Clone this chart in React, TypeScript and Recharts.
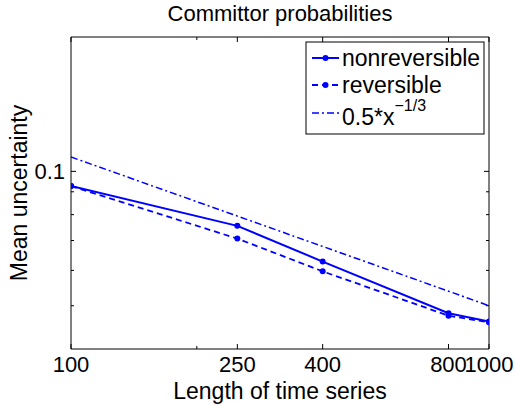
import React from 'react';
import { LineChart, Line, XAxis, YAxis } from 'recharts';

// values (log-log axes)
const lengths = [100, 250, 400, 800, 1000];
const nonreversible = [0.0927, 0.0755, 0.0628, 0.0481, 0.0461];
const reversible = [0.0927, 0.0707, 0.0597, 0.0475, 0.0459];
const powerLaw = [0.1077, 0.0794, 0.0679, 0.0539, 0.05];

const xTicks = [100, 200, 250, 400, 800, 1000];
const xLabels = [100, 250, 400, 800, 1000];
const yTicks = [0.05, 0.06, 0.07, 0.08, 0.09, 0.1];
const yLabels = [0.1];

const legendNames = ['nonreversible', 'reversible', '0.5*x'];

const data = lengths.map((len, i) => ({
  length: len,
  nonreversible: nonreversible[i],
  reversible: reversible[i],
  powerLaw: powerLaw[i],
}));

const W = 515;
const H = 405;
const FONT = '"Liberation Sans", Arial, Helvetica, sans-serif';
const BLUE = '#0000ff';

const MAJOR = 5;
const MINOR = 3;

function XTick(props: any) {
  const { x, y, payload, side } = props;
  const v = payload.value;
  const major = xLabels.includes(v);
  const len = major ? MAJOR : MINOR;
  const dir = side === 'top' ? 1 : -1;
  return (
    <g>
      <line x1={x} y1={y} x2={x} y2={y + dir * len} stroke="#000" strokeWidth={1} />
      {side !== 'top' && major && (
        <text x={x} y={y + 23} textAnchor="middle" fontSize={22} fontFamily={FONT} fill="#000">
          {v}
        </text>
      )}
    </g>
  );
}

function YTick(props: any) {
  const { x, y, payload, side } = props;
  const v = payload.value;
  const major = yLabels.includes(v);
  const len = major ? MAJOR : MINOR;
  const dir = side === 'right' ? -1 : 1;
  return (
    <g>
      <line x1={x} y1={y} x2={x + dir * len} y2={y} stroke="#000" strokeWidth={1} />
      {side !== 'right' && major && (
        <text x={x - 6} y={y + 7.5} textAnchor="end" fontSize={22} fontFamily={FONT} fill="#000">
          {v}
        </text>
      )}
    </g>
  );
}

export default function App() {
  const rows = [58, 85, 113];
  return (
    <div style={{ position: 'absolute', left: 0, top: 0, width: W, height: H, background: '#fff' }}>
      <LineChart
        width={W}
        height={H}
        data={data}
        margin={{ top: 36, right: 25, bottom: 55, left: 70 }}
      >
        <XAxis
          dataKey="length"
          type="number"
          scale="log"
          domain={[100, 1000]}
          allowDataOverflow
          ticks={xTicks}
          interval={0}
          height={1}
          tickSize={0}
          tickMargin={0}
          tickLine={false}
          axisLine={{ stroke: '#000' }}
          tick={<XTick side="bottom" />}
        />
        <XAxis
          xAxisId="top"
          orientation="top"
          dataKey="length"
          type="number"
          scale="log"
          domain={[100, 1000]}
          allowDataOverflow
          ticks={xTicks}
          interval={0}
          height={1}
          tickSize={0}
          tickMargin={0}
          tickLine={false}
          axisLine={{ stroke: '#000' }}
          tick={<XTick side="top" />}
        />
        <YAxis
          type="number"
          scale="log"
          domain={[0.04, 0.2]}
          allowDataOverflow
          ticks={yTicks}
          interval={0}
          width={1}
          tickSize={0}
          tickMargin={0}
          tickLine={false}
          axisLine={{ stroke: '#000' }}
          tick={<YTick side="left" />}
        />
        <YAxis
          yAxisId="right"
          orientation="right"
          type="number"
          scale="log"
          domain={[0.04, 0.2]}
          allowDataOverflow
          ticks={yTicks}
          interval={0}
          width={1}
          tickSize={0}
          tickMargin={0}
          tickLine={false}
          axisLine={{ stroke: '#000' }}
          tick={<YTick side="right" />}
        />
        <Line
          dataKey="powerLaw"
          stroke={BLUE}
          strokeWidth={1.5}
          strokeDasharray="7 3 2 3"
          dot={false}
          isAnimationActive={false}
        />
        <Line
          dataKey="reversible"
          stroke={BLUE}
          strokeWidth={1.8}
          strokeDasharray="6 4"
          dot={{ r: 3, fill: BLUE, stroke: 'none' }}
          isAnimationActive={false}
        />
        <Line
          dataKey="nonreversible"
          stroke={BLUE}
          strokeWidth={2}
          dot={{ r: 3, fill: BLUE, stroke: 'none' }}
          isAnimationActive={false}
        />
      </LineChart>

      <svg
        width={W}
        height={H}
        style={{ position: 'absolute', left: 0, top: 0, pointerEvents: 'none' }}
        fontFamily={FONT}
      >
        <text x={280} y={21} textAnchor="middle" fontSize={22} fill="#000">
          Committor probabilities
        </text>
        <text x={280} y={399} textAnchor="middle" fontSize={23} fill="#000">
          Length of time series
        </text>
        <text transform="translate(27,193) rotate(-90)" textAnchor="middle" fontSize={23} fill="#000">
          Mean uncertainty
        </text>

        <rect x={306} y={42} width={178} height={92} fill="#fff" stroke="#000" strokeWidth={1} />
        <line x1={312} y1={rows[0]} x2={339} y2={rows[0]} stroke={BLUE} strokeWidth={2} />
        <circle cx={325.5} cy={rows[0]} r={3} fill={BLUE} />
        <text x={342} y={rows[0] + 8} fontSize={23} fill="#000">{legendNames[0]}</text>

        <line x1={312} y1={rows[1]} x2={339} y2={rows[1]} stroke={BLUE} strokeWidth={1.8} strokeDasharray="6 4" />
        <circle cx={325.5} cy={rows[1]} r={3} fill={BLUE} />
        <text x={342} y={rows[1] + 8} fontSize={23} fill="#000">{legendNames[1]}</text>

        <line x1={312} y1={rows[2]} x2={339} y2={rows[2]} stroke={BLUE} strokeWidth={1.5} strokeDasharray="7 3 2 3" />
        <text x={342} y={rows[2] + 12} fontSize={23} fill="#000">
          {legendNames[2]}
          <tspan fontSize={16} dy={-14}>−1/3</tspan>
        </text>
      </svg>
    </div>
  );
}
